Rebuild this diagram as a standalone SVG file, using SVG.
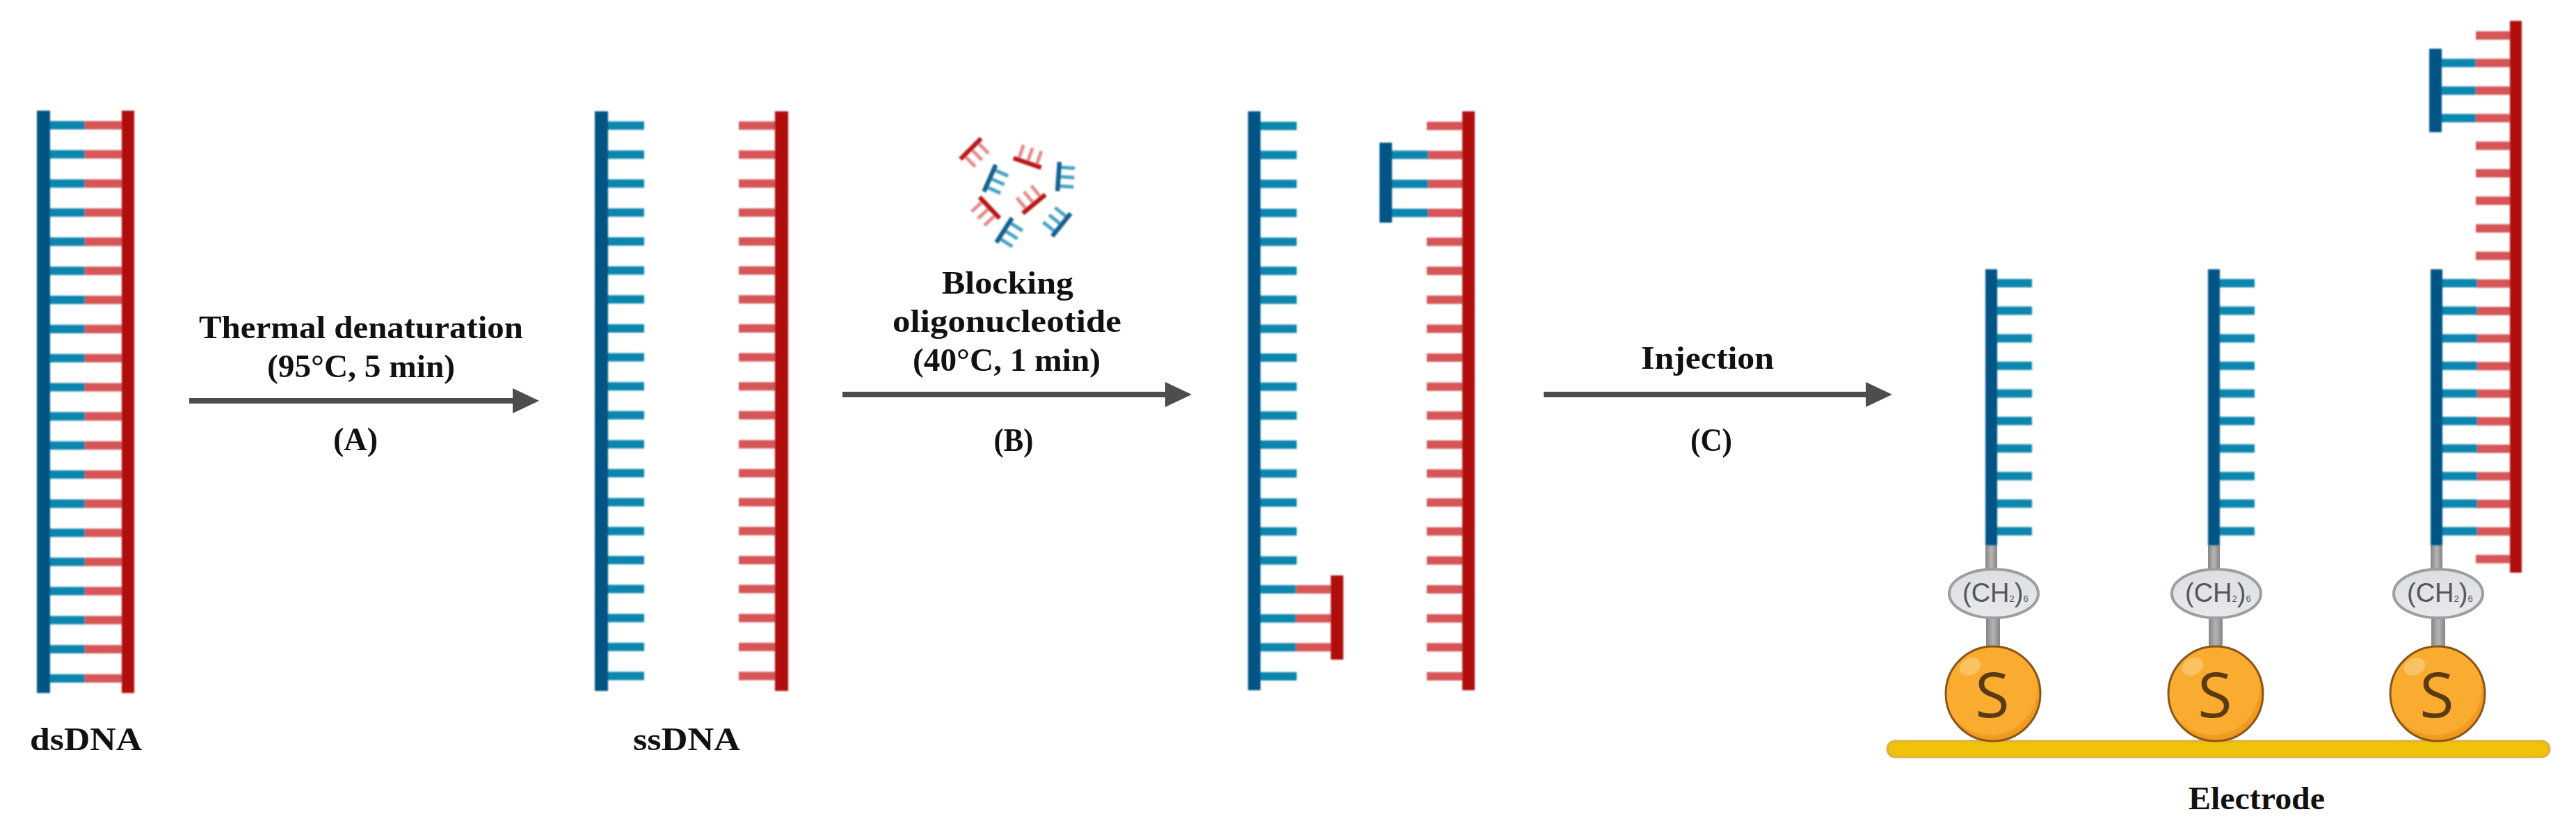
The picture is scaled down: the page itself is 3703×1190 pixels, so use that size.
<svg xmlns="http://www.w3.org/2000/svg" xmlns:xlink="http://www.w3.org/1999/xlink" width="3703" height="1190" viewBox="0 0 3703 1190">
<style>
text{font-family:"Liberation Serif","Times New Roman",serif;fill:#111;font-weight:bold;font-size:47px;text-anchor:middle}
.bb{fill:#005585}.br{fill:#b00a07}
.rb{stroke:#0f86ae;stroke-width:12;fill:none}.rr{stroke:#d65456;stroke-width:12;fill:none}
.arrow{stroke:#4d4d4d;stroke-width:8;fill:none;marker-end:url(#head)}
.stem{fill:url(#steel)}
.oval{fill:url(#ovalfill);stroke:#9c9ea0;stroke-width:4}
.ball{fill:url(#ballfill);stroke:#8a5518;stroke-width:3}
.shine{fill:#fbc264}
text.ch{font-family:"Liberation Sans",Arial,sans-serif;font-weight:normal;font-size:38px;fill:#55565a;text-anchor:start}
text.ch tspan{font-size:13px}
text.s{font-family:"Open Sans","Liberation Sans",sans-serif;font-weight:normal;font-size:90px;fill:#5a3a12}
</style>
<defs>
<marker id="head" markerUnits="userSpaceOnUse" markerWidth="38" markerHeight="36" refX="0" refY="18" orient="auto"><path d="M0 0L38 18L0 36Z" fill="#4d4d4d"/></marker>
<linearGradient id="steel"><stop offset="0" stop-color="#858585"/><stop offset=".5" stop-color="#b4b4b4"/><stop offset="1" stop-color="#858585"/></linearGradient>
<linearGradient id="ovalfill" x1="0" y1="0" x2="0" y2="1"><stop offset="0" stop-color="#dcdee1"/><stop offset="1" stop-color="#e8e9ec"/></linearGradient>
<radialGradient id="ballfill" cx=".47" cy=".44" r=".57"><stop offset=".86" stop-color="#f9ac2f"/><stop offset=".88" stop-color="#f29c22"/><stop offset="1" stop-color="#ee951c"/></radialGradient>
<filter id="soft" x="-5%" y="-5%" width="110%" height="110%"><feGaussianBlur stdDeviation="0.9"/></filter>
<path id="r42" d="M0 0h53M0 41.63h53M0 83.26h53M0 124.89h53M0 166.52h53M0 208.15h53M0 249.78h53M0 291.41h53M0 333.04h53M0 374.67h53M0 416.3h53M0 457.93h53M0 499.56h53M0 541.19h53M0 582.82h53M0 624.45h53M0 666.08h53M0 707.71h53M0 749.34h53M0 790.97h53"/>
<path id="r40" d="M0 0h53M0 39.6h53M0 79.2h53M0 118.8h53M0 158.4h53M0 198h53M0 237.6h53M0 277.2h53M0 316.8h53M0 356.4h53M0 396h53M0 435.6h53M0 475.2h53M0 514.8h53M0 554.4h53M0 594h53M0 633.6h53M0 673.2h53M0 712.8h53M0 752.4h53"/>
<path id="r10" d="M0 0h53M0 39.6h53M0 79.2h53M0 118.8h53M0 158.4h53M0 198h53M0 237.6h53M0 277.2h53M0 316.8h53M0 356.4h53"/>
<g id="fragB"><path d="M0-13.5h23M0 0h23M0 13.5h23" stroke="#4aa3c4" stroke-width="5" fill="none"/><rect x="-3" y="-21" width="6.500" height="42" fill="#14608f"/></g>
<g id="fragR"><path d="M0-13.5h23M0 0h23M0 13.5h23" stroke="#e58b8c" stroke-width="5" fill="none"/><rect x="-3" y="-21" width="6.500" height="42" fill="#bb1512"/></g>
</defs>
<rect width="3703" height="1190" fill="#fff"/>

<g id="dsDNA">
<g filter="url(#soft)">
<use href="#r42" class="rr" transform="translate(122,180) scale(1,1.005)"/>
<use href="#r42" class="rb" transform="translate(69,180) scale(1,1.005)"/>
<rect class="bb" x="53" y="159" width="19" height="837"/>
<rect class="br" x="175" y="159" width="18" height="837"/>
</g>
<text x="123.500" y="1078" textLength="161" lengthAdjust="spacingAndGlyphs">dsDNA</text>
</g>

<g id="ssDNA">
<g filter="url(#soft)">
<use href="#r42" class="rb" transform="translate(873,180.500)"/>
<use href="#r42" class="rr" transform="translate(1062,180.500)"/>
<rect class="bb" x="855" y="160" width="19" height="833"/>
<rect class="br" x="1114" y="160" width="19" height="833"/>
</g>
<text x="987" y="1078" textLength="154" lengthAdjust="spacingAndGlyphs">ssDNA</text>
</g>

<g id="blocking-oligos" filter="url(#soft)">
<use href="#fragR" transform="translate(1395.300,213.700) rotate(45)"/>
<use href="#fragR" transform="translate(1476.700,234.300) rotate(-71)"/>
<use href="#fragB" transform="translate(1521.300,253.700) rotate(4)"/>
<use href="#fragB" transform="translate(1422.700,256) rotate(23.700)"/>
<use href="#fragR" transform="translate(1486.700,293.300) rotate(-129.400)"/>
<use href="#fragR" transform="translate(1422.700,298.300) rotate(136.700)"/>
<use href="#fragB" transform="translate(1443.300,330.700) rotate(32.600)"/>
<use href="#fragB" transform="translate(1526,323.300) rotate(-141)"/>
</g>

<g id="hybridized">
<g filter="url(#soft)">
<use href="#r42" class="rb" transform="translate(1811,181)"/>
<use href="#r42" class="rr" transform="translate(2051,181)"/>
<path class="rb" d="M2001 222.600H2053M2001 264.300H2053M2001 305.900H2053"/>
<path class="rr" d="M1863 847.100H1915M1863 888.700H1915M1863 930.300H1915"/>
<rect class="bb" x="1794" y="160" width="18" height="832"/>
<rect class="br" x="2102" y="160" width="18" height="832"/>
<rect class="bb" x="1983" y="205" width="18" height="115"/>
<rect class="br" x="1913" y="827" width="18" height="121"/>
</g>
</g>

<g id="electrode">
<rect x="2713" y="1065" width="952" height="23" rx="11.500" fill="#f0c20a" stroke="#dcb040" stroke-width="3"/>
<text x="3244" y="1163" textLength="196" lengthAdjust="spacingAndGlyphs">Electrode</text>
</g>

<g id="probe1">
<rect class="stem" x="2854" y="784" width="17" height="36"/>
<rect class="stem" x="2855" y="888" width="20" height="42"/>
<ellipse class="oval" cx="2866" cy="853" rx="64" ry="35"/>
<text class="ch" x="2821" y="865">(CH<tspan>2</tspan>)<tspan>6</tspan></text>
<circle class="ball" cx="2865" cy="997" r="68"/>
<ellipse class="shine" cx="2832" cy="958" rx="16" ry="12" transform="rotate(-25 2832 958)"/>
<text class="s" x="2864" y="1031">S</text>
<g filter="url(#soft)">
<use href="#r10" class="rb" transform="translate(2868,407)"/>
<rect class="bb" x="2854" y="387" width="17" height="397"/>
</g>
</g>

<g id="probe2">
<rect class="stem" x="3174" y="784" width="17" height="36"/>
<rect class="stem" x="3175" y="888" width="20" height="42"/>
<ellipse class="oval" cx="3186" cy="853" rx="64" ry="35"/>
<text class="ch" x="3141" y="865">(CH<tspan>2</tspan>)<tspan>6</tspan></text>
<circle class="ball" cx="3185" cy="997" r="68"/>
<ellipse class="shine" cx="3152" cy="958" rx="16" ry="12" transform="rotate(-25 3152 958)"/>
<text class="s" x="3184" y="1031">S</text>
<g filter="url(#soft)">
<use href="#r10" class="rb" transform="translate(3188,407)"/>
<rect class="bb" x="3174" y="387" width="17" height="397"/>
</g>
</g>

<g id="probe3">
<rect class="stem" x="3494" y="784" width="17" height="36"/>
<rect class="stem" x="3495" y="888" width="20" height="42"/>
<ellipse class="oval" cx="3505" cy="853" rx="64" ry="35"/>
<text class="ch" x="3460" y="865">(CH<tspan>2</tspan>)<tspan>6</tspan></text>
<circle class="ball" cx="3504" cy="997" r="68"/>
<ellipse class="shine" cx="3471" cy="958" rx="16" ry="12" transform="rotate(-25 3471 958)"/>
<text class="s" x="3503" y="1031">S</text>
<g filter="url(#soft)">
<use href="#r40" class="rr" transform="translate(3559,51)"/>
<use href="#r10" class="rb" transform="translate(3508,407)"/>
<path class="rb" d="M3510 90.600H3559M3510 130.200H3559M3510 169.800H3559"/>
<rect class="bb" x="3494" y="387" width="17" height="397"/>
<rect class="bb" x="3492" y="70" width="18" height="120"/>
<rect class="br" x="3608" y="30" width="17" height="793"/>
</g>
</g>

<g id="connectors">
<line class="arrow" x1="272" y1="576" x2="737" y2="576"/>
<line class="arrow" x1="1211" y1="567" x2="1675" y2="567"/>
<line class="arrow" x1="2219" y1="567" x2="2682" y2="567"/>
</g>

<g id="label-a">
<text x="519" y="486" textLength="466" lengthAdjust="spacingAndGlyphs">Thermal denaturation</text>
<text x="519" y="542" textLength="270" lengthAdjust="spacingAndGlyphs">(95°C, 5 min)</text>
<text x="511" y="647" textLength="64" lengthAdjust="spacingAndGlyphs">(A)</text>
</g>
<g id="label-b">
<text x="1448.500" y="422" textLength="189" lengthAdjust="spacingAndGlyphs">Blocking</text>
<text x="1447.500" y="477" textLength="329" lengthAdjust="spacingAndGlyphs">oligonucleotide</text>
<text x="1447" y="533" textLength="270" lengthAdjust="spacingAndGlyphs">(40°C, 1 min)</text>
<text x="1457" y="648" textLength="57" lengthAdjust="spacingAndGlyphs">(B)</text>
</g>
<g id="label-c">
<text x="2454.500" y="530" textLength="191" lengthAdjust="spacingAndGlyphs">Injection</text>
<text x="2460" y="648" textLength="60" lengthAdjust="spacingAndGlyphs">(C)</text>
</g>
</svg>
